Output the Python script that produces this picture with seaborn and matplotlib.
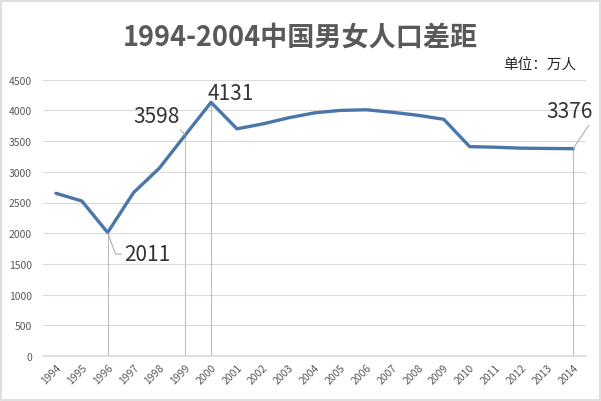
import numpy as np
import pandas as pd
import matplotlib
matplotlib.use("Agg")
import matplotlib.pyplot as plt
import seaborn as sns
from matplotlib.patches import Rectangle

# data (万人)
years = list(range(1994, 2015))
gap = [2650, 2525, 2011, 2660, 3060, 3598, 4131, 3700, 3780, 3880,
       3960, 4000, 4010, 3970, 3920, 3855, 3410, 3400, 3385, 3380, 3376]
labelled_years = [1996, 1999, 2000, 2014]

title = "1994-2004中国男女人口差距"
unit = "单位：万人"

df = pd.DataFrame({"year": years, "gap": gap})

sns.set_theme(style="white")
plt.rcParams["font.family"] = ["Noto Sans CJK SC", "DejaVu Sans"]

fig = plt.figure(figsize=(6.01, 4.02), dpi=100)
ax = fig.add_axes([43 / 601, 45 / 402, 543 / 601, 276.3 / 402])

grey_txt = "#595959"
grid_c = "#d9d9d9"

# drop lines for the labelled points
for yr in labelled_years:
    v = gap[years.index(yr)]
    ax.vlines(yr, 0, v, color="#bfbfbf", lw=0.8, zorder=1)

sns.lineplot(data=df, x="year", y="gap", ax=ax, color="#4B76AA", lw=2.4,
             zorder=3)

ax.set_xlim(1993.5, 2014.5)
ax.set_ylim(0, 4500)
ax.set_yticks(np.arange(0, 4501, 500))
ax.set_xticks(years)
ax.set_xticklabels([str(y) for y in years], rotation=45, ha="right",
                   rotation_mode="anchor", fontsize=7.5, color=grey_txt)
ax.tick_params(axis="y", labelsize=7.5, labelcolor=grey_txt, length=0, pad=8)
ax.tick_params(axis="x", length=0, pad=4)
ax.yaxis.grid(True, color=grid_c, lw=0.8)
ax.xaxis.grid(False)
for s in ["left", "right", "top"]:
    ax.spines[s].set_visible(False)
ax.spines["bottom"].set_color(grid_c)
ax.set_xlabel("")
ax.set_ylabel("")

# data labels
lab_kw = dict(fontsize=15, color="#333333", ha="center", va="center")
line_kw = dict(arrowstyle="-", color="#a6a6a6", lw=0.7, shrinkA=0, shrinkB=0)
ax.annotate("2011", xy=(1996, 2011), xytext=(1997.55, 1660),
            arrowprops=dict(connectionstyle="angle,angleA=0,angleB=-70",
                            **line_kw), **lab_kw)
ax.annotate("3598", xy=(1999, 3598), xytext=(1997.9, 3915),
            arrowprops=dict(relpos=(0.95, 0.0), **line_kw), **lab_kw)
ax.text(2000.75, 4290, "4131", **lab_kw)
ax.annotate("3376", xy=(2014, 3376), xytext=(2013.88, 3990),
            arrowprops=dict(relpos=(0.95, 0.0), **line_kw), **lab_kw)

fig.text(300 / 601, 1 - 38 / 402, title, fontsize=19.5, fontweight="bold",
         color=grey_txt, ha="center", va="center")
fig.text(576 / 601, 1 - 66 / 402, unit, fontsize=10.5, color="#262626",
         ha="right", va="center")

fig.patches.append(Rectangle((0.002, 0.002), 0.996, 0.994,
                             transform=fig.transFigure, fill=False,
                             edgecolor="#d9d9d9", lw=1.2))

fig.savefig("out.png", dpi=100)
